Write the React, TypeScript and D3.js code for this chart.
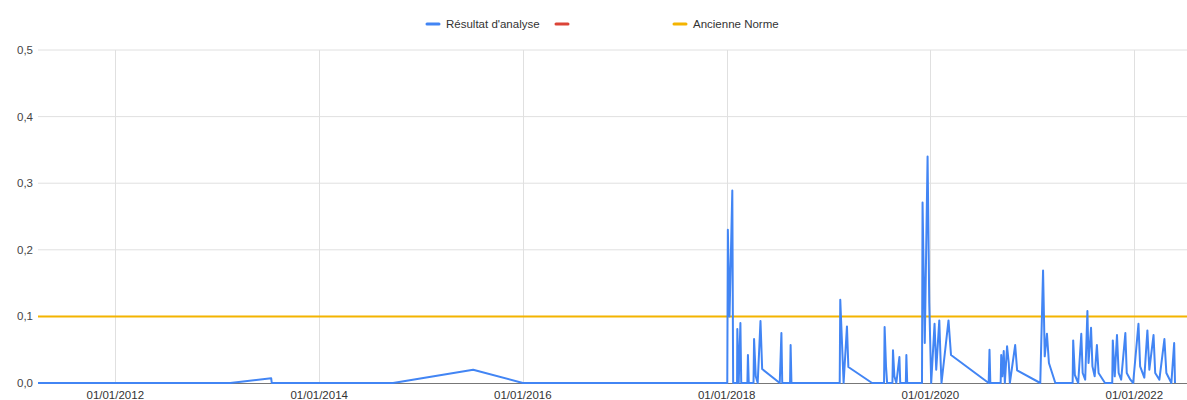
import React from 'react';
import * as d3 from 'd3';

// Résultat d'analyse : [date, valeur]
const resultats: [string, number][] = [
  ['2011-03-30', 0], ['2013-02-16', 0], ['2013-07-13', 0.007], ['2013-07-15', 0],
  ['2014-09-23', 0], ['2015-07-07', 0.02], ['2016-01-01', 0],
  ['2018-01-03', 0], ['2018-01-05', 0.23], ['2018-01-11', 0.1], ['2018-01-21', 0.289], ['2018-01-24', 0],
  ['2018-02-07', 0], ['2018-02-08', 0.081], ['2018-02-13', 0], ['2018-02-19', 0.09], ['2018-02-22', 0],
  ['2018-03-16', 0], ['2018-03-18', 0.042], ['2018-03-21', 0], ['2018-04-07', 0], ['2018-04-09', 0.066], ['2018-04-15', 0.01], ['2018-04-22', 0],
  ['2018-05-02', 0.093], ['2018-05-08', 0.021], ['2018-07-10', 0], ['2018-07-16', 0.075], ['2018-07-19', 0],
  ['2018-08-16', 0], ['2018-08-18', 0.057], ['2018-08-21', 0],
  ['2019-02-10', 0], ['2019-02-12', 0.125], ['2019-02-19', 0.052], ['2019-02-24', 0],
  ['2019-03-08', 0.085], ['2019-03-13', 0.024], ['2019-06-06', 0],
  ['2019-07-19', 0], ['2019-07-21', 0.084], ['2019-07-26', 0.025], ['2019-07-30', 0],
  ['2019-08-18', 0], ['2019-08-20', 0.049], ['2019-08-25', 0.01], ['2019-09-01', 0], ['2019-09-12', 0.039], ['2019-09-15', 0],
  ['2019-10-05', 0], ['2019-10-07', 0.042], ['2019-10-10', 0], ['2019-12-02', 0], ['2019-12-04', 0.271], ['2019-12-12', 0.06],
  ['2019-12-22', 0.34], ['2019-12-28', 0.12], ['2020-01-04', 0], ['2020-01-16', 0.089], ['2020-01-22', 0.02],
  ['2020-02-02', 0.094], ['2020-02-07', 0.03], ['2020-02-10', 0], ['2020-03-06', 0.094], ['2020-03-15', 0.042],
  ['2020-07-28', 0], ['2020-07-31', 0.05], ['2020-08-03', 0], ['2020-09-09', 0], ['2020-09-11', 0.042],
  ['2020-09-15', 0.01], ['2020-09-20', 0.048], ['2020-09-24', 0], ['2020-10-02', 0.055], ['2020-10-08', 0.03],
  ['2020-10-12', 0], ['2020-10-31', 0.057], ['2020-11-07', 0.019], ['2021-01-29', 0],
  ['2021-02-08', 0.169], ['2021-02-14', 0.04], ['2021-02-22', 0.074], ['2021-03-01', 0.03], ['2021-03-24', 0],
  ['2021-05-25', 0], ['2021-05-27', 0.064], ['2021-06-02', 0.012], ['2021-06-14', 0],
  ['2021-06-25', 0.074], ['2021-06-30', 0.015], ['2021-07-09', 0.005], ['2021-07-17', 0.108], ['2021-07-21', 0.03],
  ['2021-07-30', 0.083], ['2021-08-04', 0.025], ['2021-08-12', 0.01], ['2021-08-20', 0.057], ['2021-08-26', 0.015],
  ['2021-09-18', 0], ['2021-10-14', 0], ['2021-10-16', 0.064], ['2021-10-23', 0.01], ['2021-10-31', 0.072],
  ['2021-11-06', 0.015], ['2021-11-15', 0.005], ['2021-11-30', 0.075], ['2021-12-05', 0.015], ['2021-12-18', 0.005],
  ['2021-12-28', 0], ['2022-01-16', 0.089], ['2022-01-22', 0.025], ['2022-02-06', 0.008], ['2022-02-17', 0.079],
  ['2022-02-24', 0.02], ['2022-03-11', 0.072], ['2022-03-17', 0.015], ['2022-04-01', 0.005], ['2022-04-19', 0.066],
  ['2022-04-26', 0.015], ['2022-05-14', 0], ['2022-05-24', 0.06], ['2022-05-27', 0],
];

const ancienneNorme = 0.1;
const domaineDates = ['2011-03-30', '2022-07-09'];
const yTicks = [0, 0.1, 0.2, 0.3, 0.4, 0.5];
const xTicks = ['2012-01-01', '2014-01-01', '2016-01-01', '2018-01-01', '2020-01-01', '2022-01-01'];

const legende = [
  { label: "Résultat d'analyse", color: '#4285f4', x: 427 },
  { label: '', color: '#db4437', x: 556 },
  { label: 'Ancienne Norme', color: '#f4b400', x: 674 },
];

const W = 1187;
const H = 400;
const FONT = 'Arial, "Liberation Sans", sans-serif';

const App = () => {
  const parse = d3.timeParse('%Y-%m-%d');
  const fmt = d3.timeFormat('%d/%m/%Y');

  const x = d3.scaleTime()
    .domain(domaineDates.map(d => parse(d) as Date))
    .range([38, W]);
  const y = d3.scaleLinear().domain([0, 0.5]).range([383, 50]);

  const line = d3.line<[string, number]>()
    .x(d => x(parse(d[0]) as Date))
    .y(d => y(d[1]));

  return (
    <svg width={W} height={H} style={{ position: 'absolute', left: 0, top: 0, background: '#fff' }}
      fontFamily={FONT}>
      {/* horizontal gridlines */}
      {yTicks.filter(t => t > 0).map(t => (
        <line key={t} x1={38} x2={W} y1={y(t)} y2={y(t)} stroke="#e0e0e0" strokeWidth={1} />
      ))}
      {/* vertical gridlines */}
      {xTicks.map(t => {
        const px = Math.round(x(parse(t) as Date)) + 0.5;
        return <line key={t} x1={px} x2={px} y1={50} y2={383} stroke="#e0e0e0" strokeWidth={1} />;
      })}

      {/* y labels */}
      {yTicks.map(t => (
        <text key={t} x={33} y={y(t) + 4} textAnchor="end" fontSize={11.5} fill="#444">
          {d3.format('.1f')(t).replace('.', ',')}
        </text>
      ))}
      {/* x labels */}
      {xTicks.map(t => (
        <text key={t} x={x(parse(t) as Date)} y={399} textAnchor="middle" fontSize={11.5} fill="#333">
          {fmt(parse(t) as Date)}
        </text>
      ))}

      {/* baseline */}
      <line x1={38} x2={W} y1={y(0) + 0.5} y2={y(0) + 0.5} stroke="#777" strokeWidth={1} />

      {/* Ancienne Norme */}
      <line x1={38} x2={W} y1={y(ancienneNorme)} y2={y(ancienneNorme)} stroke="#f4b400" strokeWidth={2} />

      {/* Résultat d'analyse */}
      <path d={line(resultats) || ''} fill="none" stroke="#4285f4" strokeWidth={2} strokeLinejoin="round" />

      {/* legend */}
      {legende.map(l => (
        <g key={l.color} transform={`translate(${l.x},24)`}>
          <line x1={0} x2={12} y1={0} y2={0} stroke={l.color} strokeWidth={3} strokeLinecap="round" />
          {l.label && (
            <text x={19} y={4} fontSize={11.5} fill="#333">{l.label}</text>
          )}
        </g>
      ))}
    </svg>
  );
};

export default App;
